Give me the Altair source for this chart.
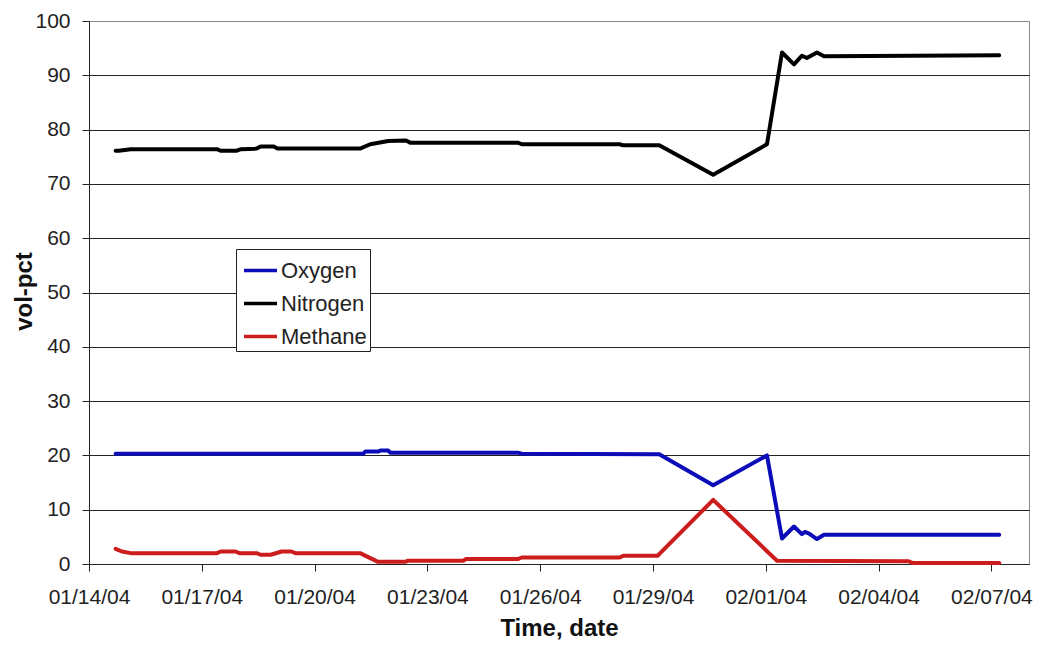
import altair as alt
import pandas as pd

# ---- data ----
series_names = ["Oxygen", "Nitrogen", "Methane"]
series_colors = ["#0c0cb8", "#000000", "#cc1c1c"]

nitrogen_time = ["2004-01-14T17:00", "2004-01-14T19:00", "2004-01-15T02:40", "2004-01-17T09:40",
                 "2004-01-17T12:00", "2004-01-17T22:00", "2004-01-18T01:00", "2004-01-18T11:00",
                 "2004-01-18T13:30", "2004-01-18T22:00", "2004-01-19T00:20", "2004-01-21T05:00",
                 "2004-01-21T11:30", "2004-01-21T23:00", "2004-01-22T10:20", "2004-01-22T13:00",
                 "2004-01-25T09:40", "2004-01-25T12:15", "2004-01-28T02:40", "2004-01-28T05:00",
                 "2004-01-29T04:00", "2004-01-30T14:25", "2004-02-01T00:45", "2004-02-01T10:20",
                 "2004-02-01T18:00", "2004-02-01T23:00", "2004-02-02T02:10", "2004-02-02T08:40",
                 "2004-02-02T13:10", "2004-02-07T05:00"]
nitrogen_value = [76.1, 76.1, 76.4, 76.4,
                  76.1, 76.1, 76.4, 76.5,
                  76.9, 76.9, 76.5, 76.5,
                  77.3, 77.9, 78.0, 77.6,
                  77.6, 77.3, 77.3, 77.1,
                  77.1, 71.7, 77.3, 94.2,
                  92.0, 93.6, 93.2, 94.2,
                  93.5, 93.7]

oxygen_time = ["2004-01-14T17:00", "2004-01-21T07:00", "2004-01-21T08:20", "2004-01-21T16:30",
               "2004-01-21T18:00", "2004-01-21T23:00", "2004-01-22T00:15", "2004-01-25T09:40",
               "2004-01-25T12:15", "2004-01-29T04:00", "2004-01-30T14:25", "2004-02-01T00:45",
               "2004-02-01T10:20", "2004-02-01T18:00", "2004-02-01T23:00", "2004-02-02T01:00",
               "2004-02-02T03:40", "2004-02-02T08:40", "2004-02-02T13:10", "2004-02-07T05:00"]
oxygen_value = [20.3, 20.3, 20.7, 20.7,
                20.9, 20.9, 20.5, 20.5,
                20.3, 20.2, 14.5, 20.0,
                4.7, 6.9, 5.5, 5.9,
                5.6, 4.6, 5.4, 5.4]

methane_time = ["2004-01-14T17:00", "2004-01-14T21:00", "2004-01-15T02:40", "2004-01-17T09:40",
                "2004-01-17T12:00", "2004-01-17T21:30", "2004-01-18T00:00", "2004-01-18T11:00",
                "2004-01-18T13:30", "2004-01-18T20:00", "2004-01-19T03:00", "2004-01-19T09:10",
                "2004-01-19T11:45", "2004-01-21T05:00", "2004-01-21T16:30", "2004-01-22T09:50",
                "2004-01-22T11:40", "2004-01-23T22:50", "2004-01-24T00:40", "2004-01-25T09:40",
                "2004-01-25T12:15", "2004-01-28T02:40", "2004-01-28T05:00", "2004-01-29T02:50",
                "2004-01-30T14:25", "2004-02-01T07:10", "2004-02-04T19:10", "2004-02-04T21:30",
                "2004-02-07T05:00"]
methane_value = [2.8, 2.3, 2.0, 2.0,
                 2.3, 2.3, 2.0, 2.0,
                 1.7, 1.7, 2.3, 2.3,
                 2.0, 2.0, 0.4, 0.4,
                 0.6, 0.6, 0.9, 0.9,
                 1.2, 1.2, 1.5, 1.5,
                 11.8, 0.6, 0.5, 0.2,
                 0.2]

y_ticks = [0, 10, 20, 30, 40, 50, 60, 70, 80, 90, 100]
x_tick_days = [(1, 14), (1, 17), (1, 20), (1, 23), (1, 26), (1, 29), (2, 1), (2, 4), (2, 7)]

# ---- build table ----
frames = []
for name, t, v in [("Oxygen", oxygen_time, oxygen_value),
                   ("Nitrogen", nitrogen_time, nitrogen_value),
                   ("Methane", methane_time, methane_value)]:
    frames.append(pd.DataFrame({"time": [s + ":00" for s in t], "value": v, "gas": name}))
df = pd.concat(frames, ignore_index=True)

x_values = [alt.DateTime(year=2004, month=m, date=d) for m, d in x_tick_days]

FONT = "Liberation Sans"
W, H = 940, 543

chart = alt.Chart(df).mark_line(strokeWidth=4, strokeCap="round", strokeJoin="round").encode(
    x=alt.X("time:T",
            scale=alt.Scale(domain=[alt.DateTime(year=2004, month=1, date=14),
                                    alt.DateTime(year=2004, month=2, date=8)], nice=False),
            axis=alt.Axis(title="Time, date", values=x_values, format="%m/%d/%y",
                          grid=False, tickSize=7, tickColor="#222", domainColor="#222",
                          labelFontSize=21, labelFont=FONT, labelColor="#222",
                          labelPadding=15, labelFlush=False,
                          titleFont=FONT, titleFontSize=24, titleFontWeight="bold",
                          titleColor="#111", titleX=W / 2, titleY=71,
                          titleBaseline="alphabetic")),
    y=alt.Y("value:Q",
            scale=alt.Scale(domain=[0, 100], nice=False),
            axis=alt.Axis(title="vol-pct", values=y_ticks, grid=True,
                          gridColor=alt.condition("datum.value == 100", alt.value("#888888"), alt.value("#222222")),
                          gridWidth=1, tickSize=7, tickColor="#222", domainColor="#222",
                          labelFontSize=21, labelFont=FONT, labelColor="#222",
                          labelPadding=12,
                          titleFont=FONT, titleFontSize=24, titleFontWeight="bold",
                          titleColor="#111", titleAngle=270, titleX=-65, titleY=270,
                          titleBaseline="middle", titleAlign="center")),
    color=alt.Color("gas:N",
                    scale=alt.Scale(domain=series_names, range=series_colors),
                    legend=alt.Legend(title=None, orient="none", legendX=147, legendY=228,
                                      fillColor="white", strokeColor="#222",
                                      padding=3, symbolType="stroke", symbolSize=1089,
                                      symbolOffset=3,
                                      symbolStrokeWidth=3.5, labelFontSize=22, labelFont=FONT,
                                      labelColor="#222", labelOffset=2, rowPadding=3,
                                      offset=0)),
).properties(
    width=W, height=H,
    padding={"left": 81, "top": 13, "right": 4, "bottom": 78},
    autosize=alt.AutoSizeParams(type="none"),
).configure_view(stroke="#888888", strokeWidth=1)

chart.save("out.html", embed_options={"renderer": "svg", "actions": False})
